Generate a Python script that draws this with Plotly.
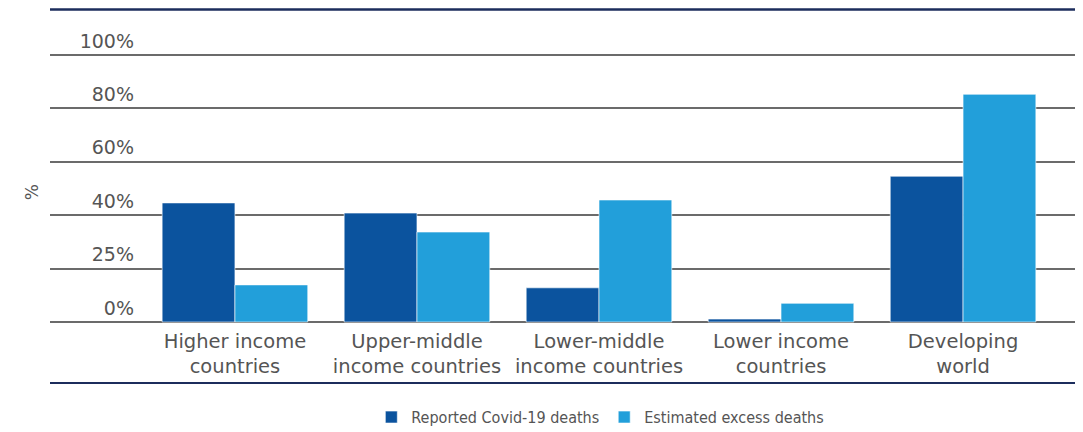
import plotly.graph_objects as go

categories = ["Higher income<br>countries", "Upper-middle<br>income countries",
              "Lower-middle<br>income countries", "Lower income<br>countries",
              "Developing<br>world"]
reported = [44.6, 40.8, 12.8, 1.1, 54.6]
excess = [13.9, 33.7, 45.7, 7.0, 85.3]
tick_vals = [0, 20, 40, 60, 80, 100]
tick_text = ["0%", "25%", "40%", "60%", "80%", "100%"]

DARK = "#0b539e"
LIGHT = "#229fda"

fig = go.Figure()
fig.add_trace(go.Bar(x=categories, y=reported, name="Reported Covid-19 deaths",
                     marker=dict(color=DARK, line=dict(color="rgba(255,255,255,0.6)", width=1))))
fig.add_trace(go.Bar(x=categories, y=excess, name="Estimated excess deaths",
                     marker=dict(color=LIGHT, line=dict(color="rgba(255,255,255,0.6)", width=1))))

fig.update_layout(
    width=1075, height=424,
    margin=dict(l=42, r=6, t=43, b=106, autoexpand=False),
    paper_bgcolor="white", plot_bgcolor="white",
    barmode="group", bargap=0.2, bargroupgap=0,
    font=dict(family="DejaVu Sans", color="#555555"),
    showlegend=True,
    legend=dict(orientation="h", x=0.551, xref="container", xanchor="center",
                y=0.035, yref="container", yanchor="middle",
                font=dict(family="DejaVu Sans Condensed", size=16, color="#555555"),
                itemwidth=30, traceorder="normal"),
    shapes=[
        dict(type="line", xref="paper", yref="paper", x0=0, x1=1, y0=1.151, y1=1.151,
             line=dict(color="#1c2d5c", width=2.5)),
        dict(type="line", xref="paper", yref="paper", x0=0, x1=1, y0=-0.207, y1=-0.207,
             line=dict(color="#1c2d5c", width=2)),
    ],
    annotations=[
        dict(text="%", xref="paper", yref="paper", x=-0.029, y=0.487, showarrow=False,
             textangle=-90, font=dict(family="DejaVu Sans", size=17, color="#555555"))
    ],
)

fig.update_xaxes(range=[-1.016, 4.626], showgrid=False, showline=False, ticks="",
                 tickfont=dict(size=19.5, color="#555555"), zeroline=False,
                 automargin=False, ticklabelstandoff=1)
fig.update_yaxes(range=[-1.5, 101.5], tickvals=tick_vals, ticktext=tick_text,
                 showgrid=True, gridcolor="#6b6b6b", gridwidth=1.5,
                 zeroline=False, showline=False, ticks="", automargin=False,
                 tickfont=dict(size=19, color="#555555"),
                 ticklabelstandoff=-85, ticklabelshift=-14)

fig.write_html("out.html")
